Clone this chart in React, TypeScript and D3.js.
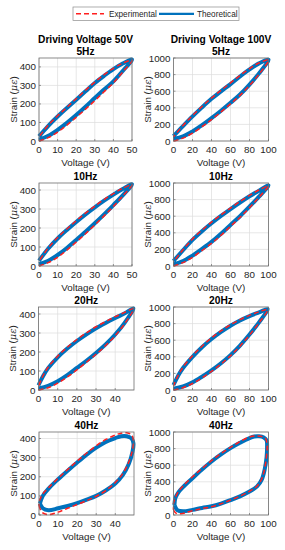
import React from "react";
import * as d3 from "d3";

type Pt = [number, number];

// Loops: [voltage, strain]. Ascending branch first, then back down.
const theo50v5: Pt[] = [[0, 8], [5, 28], [10, 60], [15, 98], [20, 140], [25, 185], [30, 232], [35, 278], [40, 322], [45, 378], [50, 440],
  [45, 418], [40, 388], [35, 352], [30, 313], [25, 268], [20, 223], [15, 178], [10, 132], [5, 82], [0, 25]];
const exp50v5: Pt[] = [[0, 0], [5, 18], [10, 48], [15, 86], [20, 128], [25, 172], [30, 218], [35, 266], [40, 314], [45, 372], [50, 436],
  [45, 420], [40, 392], [35, 358], [30, 318], [25, 274], [20, 228], [15, 182], [10, 136], [5, 86], [0, 22]];

const theo100v5: Pt[] = [[0, 25], [10, 55], [20, 115], [30, 190], [40, 275], [50, 365], [60, 460], [70, 560], [80, 680], [90, 815], [100, 980],
  [90, 935], [80, 862], [70, 777], [60, 686], [50, 598], [40, 508], [30, 405], [20, 296], [10, 180], [0, 60]];
const exp100v5: Pt[] = [[0, 0], [10, 35], [20, 95], [30, 172], [40, 258], [50, 350], [60, 447], [70, 550], [80, 668], [90, 805], [100, 975],
  [90, 940], [80, 872], [70, 790], [60, 700], [50, 610], [40, 518], [30, 416], [20, 306], [10, 188], [0, 50]];

const theo50v10: Pt[] = [[0, 10], [5, 28], [10, 58], [15, 95], [20, 137], [25, 180], [30, 225], [35, 272], [40, 321], [45, 372], [50, 430],
  [45, 405], [40, 376], [35, 344], [30, 309], [25, 272], [20, 232], [15, 190], [10, 145], [5, 92], [0, 28]];
const exp50v10: Pt[] = [[0, 0], [5, 18], [10, 46], [15, 84], [20, 126], [25, 170], [30, 216], [35, 264], [40, 314], [45, 368], [50, 428],
  [45, 409], [40, 381], [35, 350], [30, 315], [25, 278], [20, 238], [15, 195], [10, 150], [5, 96], [0, 25]];

const theo100v10: Pt[] = [[0, 20], [10, 58], [20, 125], [30, 205], [40, 290], [50, 388], [60, 495], [70, 600], [80, 715], [90, 835], [100, 970],
  [90, 908], [80, 840], [70, 765], [60, 686], [50, 603], [40, 515], [30, 420], [20, 315], [10, 190], [0, 60]];
const exp100v10: Pt[] = [[0, 0], [10, 40], [20, 105], [30, 186], [40, 272], [50, 370], [60, 478], [70, 585], [80, 702], [90, 828], [100, 965],
  [90, 916], [80, 850], [70, 777], [60, 698], [50, 616], [40, 528], [30, 432], [20, 326], [10, 196], [0, 50]];

const theo50v20: Pt[] = [[0, 8], [5, 22], [10, 46], [15, 78], [20, 116], [25, 154], [30, 195], [35, 240], [40, 292], [45, 355], [49.5, 430],
  [45, 404], [40, 379], [35, 353], [30, 325], [25, 293], [20, 258], [15, 218], [10, 172], [5, 115], [2.5, 75], [0, 25]];
const exp50v20: Pt[] = [[0, 0], [5, 12], [10, 36], [15, 68], [20, 106], [25, 146], [30, 188], [35, 234], [40, 286], [45, 350], [49.5, 428],
  [45, 409], [40, 386], [35, 360], [30, 333], [25, 301], [20, 266], [15, 225], [10, 178], [5, 120], [2.5, 78], [0, 20]];

const theo100v20: Pt[] = [[0, 15], [10, 42], [20, 92], [30, 160], [40, 236], [50, 322], [60, 420], [70, 535], [80, 668], [90, 815], [99, 975],
  [90, 935], [80, 890], [70, 838], [60, 775], [50, 700], [40, 614], [30, 515], [20, 400], [10, 265], [5, 175], [0, 60]];
const exp100v20: Pt[] = [[0, 0], [10, 28], [20, 78], [30, 146], [40, 224], [50, 312], [60, 412], [70, 528], [80, 662], [90, 810], [99, 968],
  [90, 942], [80, 899], [70, 848], [60, 786], [50, 712], [40, 627], [30, 528], [20, 412], [10, 275], [5, 180], [0, 50]];

const theo50v40: Pt[] = [[0.5, 60], [2, 35], [5, 25], [10, 35], [15, 47], [20, 62], [25, 80], [30, 100], [35, 128], [40, 165], [44, 210], [47, 265], [49, 330], [49.5, 375],
  [48.5, 400], [46, 412], [43, 412], [40, 402], [35, 382], [30, 352], [25, 316], [20, 275], [15, 232], [10, 187], [5, 138], [2, 100], [0.5, 60]];
const exp50v40: Pt[] = [[0, 50], [1.5, 15], [5, 2], [10, 15], [15, 35], [20, 55], [25, 75], [30, 98], [35, 128], [40, 170], [44, 218], [47, 275], [49, 340], [49.5, 390],
  [48.5, 420], [46, 430], [43, 428], [40, 418], [35, 395], [30, 362], [25, 324], [20, 282], [15, 238], [10, 192], [5, 143], [2, 110], [0.3, 75], [0, 50]];

const theo100v40: Pt[] = [[1, 120], [4, 60], [10, 45], [20, 62], [30, 85], [40, 105], [50, 138], [60, 180], [70, 225], [80, 282], [88, 345], [93, 430], [96, 550], [98, 700], [98.5, 820],
  [98, 900], [95, 935], [90, 948], [85, 946], [80, 927], [70, 870], [60, 806], [50, 730], [40, 645], [30, 548], [20, 443], [10, 335], [5, 270], [2, 205], [1, 120]];
const exp100v40: Pt[] = [[0, 60], [3, 20], [8, 15], [15, 35], [20, 50], [30, 78], [40, 100], [50, 135], [60, 180], [70, 228], [80, 285], [88, 350], [93, 440], [96, 560], [98, 720], [98.5, 840],
  [97, 920], [93, 945], [88, 952], [80, 940], [70, 885], [60, 815], [50, 740], [40, 655], [30, 560], [20, 460], [10, 350], [5, 280], [2, 210], [0, 140], [0, 60]];

const voltTicks50 = [0, 10, 20, 30, 40, 50];
const voltTicks100 = [0, 20, 40, 60, 80, 100];
const strainTicks50 = [0, 100, 200, 300, 400];
const strainTicks100 = [0, 200, 400, 600, 800, 1000];
const freqLabels = ["5Hz", "10Hz", "20Hz", "40Hz"];
const columnTitles = ["Driving Voltage 50V", "Driving Voltage 100V"];
const legendLabels = ["Experimental", "Theoretical"];

const leftLoops = [[theo50v5, exp50v5], [theo50v10, exp50v10], [theo50v20, exp50v20], [theo50v40, exp50v40]];
const rightLoops = [[theo100v5, exp100v5], [theo100v10, exp100v10], [theo100v20, exp100v20], [theo100v40, exp100v40]];
const leftXMax = [50, 50, 49.8, 49.8];
const leftYMax = [448, 437, 437, 434];

const BLUE = "#0072BD";
const RED = "#FF1F1F";
const FONT = "'Liberation Sans', Arial, Helvetica, sans-serif";

function Panel(props: {
  x: number; y: number; w: number; h: number;
  xMax: number; yMax: number; xTicks: number[]; yTicks: number[];
  theo: Pt[]; exp: Pt[]; title: string[];
}) {
  const { x, y, w, h } = props;
  const sx = d3.scaleLinear().domain([0, props.xMax]).range([x, x + w]);
  const sy = d3.scaleLinear().domain([0, props.yMax]).range([y + h, y]);
  const line = d3.line<Pt>().x(d => sx(d[0])).y(d => sy(d[1])).curve(d3.curveCatmullRom.alpha(0.5));
  const xt = props.xTicks.filter(t => t <= props.xMax);

  return (
    <g>
      {/* grid */}
      {xt.map(t => <line key={"gx" + t} x1={sx(t)} x2={sx(t)} y1={y} y2={y + h} stroke="#dcdcdc" strokeWidth={0.7} />)}
      {props.yTicks.map(t => <line key={"gy" + t} x1={x} x2={x + w} y1={sy(t)} y2={sy(t)} stroke="#dcdcdc" strokeWidth={0.7} />)}
      <path d={line(props.theo) || ""} fill="none" stroke={BLUE} strokeWidth={4} strokeLinejoin="round" />
      <path d={line(props.exp) || ""} fill="none" stroke={RED} strokeWidth={1.5} strokeDasharray="5,3" />
      <rect x={x} y={y} width={w} height={h} fill="none" stroke="#6e6e6e" strokeWidth={0.8} />
      {/* ticks */}
      {xt.map(t => (
        <g key={"tx" + t}>
          <line x1={sx(t)} x2={sx(t)} y1={y + h} y2={y + h - 2} stroke="#6e6e6e" strokeWidth={0.7} />
          <text x={sx(t)} y={y + h + 11.5} textAnchor="middle" fontSize={9.8} fill="#262626">{t}</text>
        </g>
      ))}
      {props.yTicks.map(t => (
        <g key={"ty" + t}>
          <line x1={x} x2={x + 2} y1={sy(t)} y2={sy(t)} stroke="#6e6e6e" strokeWidth={0.7} />
          <text x={x - 3} y={sy(t) + 3.5} textAnchor="end" fontSize={9.8} fill="#262626">{t}</text>
        </g>
      ))}
      <text x={x + w / 2} y={y + h + 25} textAnchor="middle" fontSize={9.8} fill="#262626">Voltage (V)</text>
      <text transform={`translate(${x - 22.5},${y + h / 2}) rotate(-90)`} textAnchor="middle" fontSize={9.8} fill="#262626">
        Strain (<tspan fontFamily="'DejaVu Serif', serif" fontStyle="italic">με</tspan>)
      </text>
      {props.title.map((s, i) => (
        <text key={s} x={x + w / 2} y={y - 3 - (props.title.length - 1 - i) * 12.5} textAnchor="middle"
          fontSize={10.2} fontWeight="bold" fill="#000">{s}</text>
      ))}
    </g>
  );
}

export default function App() {
  const rowTops = [58, 183, 307, 432];
  const leftX = [39, 39, 38.5, 39];
  const leftW = [93, 93, 95.5, 95];
  const boxH = 83;
  return (
    <svg width={285} height={550} style={{ display: "block", position: "absolute", left: 0, top: 0, fontFamily: FONT }}>
      <rect width={285} height={550} fill="#fff" />
      {/* legend */}
      <rect x={73} y={7} width={166} height={13.5} fill="#fff" stroke="#8c8c8c" strokeWidth={0.7} />
      <line x1={76} x2={104} y1={13.8} y2={13.8} stroke={RED} strokeWidth={1.5} strokeDasharray="5,3" />
      <text x={109} y={16.8} fontSize={8.2} fill="#262626">{legendLabels[0]}</text>
      <line x1={159} x2={194} y1={13.8} y2={13.8} stroke={BLUE} strokeWidth={2.2} />
      <text x={197} y={16.8} fontSize={8.2} fill="#262626">{legendLabels[1]}</text>
      {rowTops.map((top, r) => (
        <g key={r}>
          <Panel x={leftX[r]} y={top} w={leftW[r]} h={boxH} xMax={leftXMax[r]} yMax={leftYMax[r]}
            xTicks={voltTicks50} yTicks={strainTicks50} theo={leftLoops[r][0]} exp={leftLoops[r][1]}
            title={r === 0 ? [columnTitles[0], freqLabels[r]] : [freqLabels[r]]} />
          <Panel x={173.5} y={top} w={95} h={boxH} xMax={100} yMax={1000}
            xTicks={voltTicks100} yTicks={strainTicks100} theo={rightLoops[r][0]} exp={rightLoops[r][1]}
            title={r === 0 ? [columnTitles[1], freqLabels[r]] : [freqLabels[r]]} />
        </g>
      ))}
    </svg>
  );
}
